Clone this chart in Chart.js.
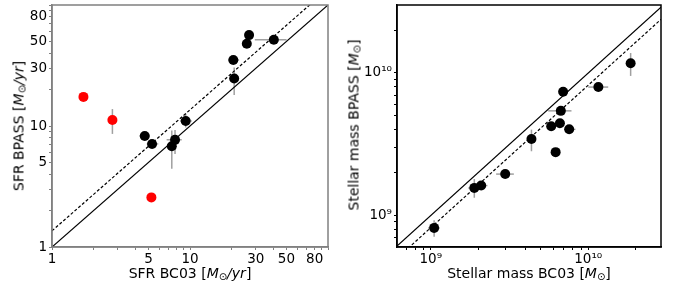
<!DOCTYPE html>
<html>
<head>
<meta charset="utf-8">
<script src="https://cdn.jsdelivr.net/npm/chart.js@4"></script>
<style>
body { margin: 0; width: 679px; height: 289px; position: relative; background: #fff; font-family: "DejaVu Sans"; overflow: hidden; }
.box { position: absolute; top: 0; height: 289px; }
.lbl { position: absolute; font-size: 14px; color: #000; white-space: nowrap; transform: translate(-50%, -50%); }
.rot { transform: translate(-50%, -50%) rotate(-90deg); }
.lbl sub { font-size: 10px; vertical-align: -2px; }
</style>
</head>
<body>
<div class="box" style="left:0;width:340px"><canvas id="sfrChart" width="340" height="289"></canvas></div>
<div class="box" style="left:340px;width:339px"><canvas id="massChart" width="339" height="289"></canvas></div>
<div class="lbl" style="left:190px;top:273px">SFR BC03 [<i>M</i><sub>⊙</sub><i>/yr</i>]</div>
<div class="lbl rot" style="left:19px;top:126px">SFR BPASS [<i>M</i><sub>⊙</sub><i>/yr</i>]</div>
<div class="lbl" style="left:529px;top:273px">Stellar mass BC03 [<i>M</i><sub>⊙</sub>]</div>
<div class="lbl rot" style="left:354px;top:125px">Stellar mass BPASS [<i>M</i><sub>⊙</sub>]</div>
<script>
// left panel: SFR
const sfrBc03 = [4.70, 5.31, 7.38, 7.79, 9.31, 20.6, 20.9, 25.8, 26.8, 40.5];
const sfrBpass = [8.28, 7.11, 6.80, 7.68, 11.0, 35.1, 24.7, 47.8, 56.4, 51.6];
const sfrBc03Lo = [4.3, 4.86, 6.9, 6.77, 8.48, 18.9, null, null, 25.0, 29.5];
const sfrBc03Hi = [5.1, 5.89, 7.8, 8.71, 10.3, 22.7, null, null, 29.0, 50.1];
const sfrBpassLo = [null, null, 4.43, 5.88, 9.7, null, 18.0, null, null, null];
const sfrBpassHi = [null, null, 9.16, 9.25, 12.6, null, 30.4, null, null, null];
const sfrBc03Red = [1.69, 2.74, 5.25];
const sfrBpassRed = [17.4, 11.2, 2.57];
const sfrBpassRedLo = [null, 8.6, null];
const sfrBpassRedHi = [null, 13.8, null];
const sfrRange = [1, 100];
const sfrOffset = 1.36;
const sfrTicks = [1, 2, 3, 4, 5, 6, 7, 8, 9, 10, 20, 30, 40, 50, 60, 70, 80, 90, 100];
const sfrTickLabels = [1, 5, 10, 30, 50, 80];

// right panel: stellar mass
const massBc03 = [1.05e9, 1.89e9, 2.09e9, 2.97e9, 4.36e9, 5.82e9, 6.21e9, 6.61e9, 6.70e9, 6.93e9, 7.57e9, 1.16e10, 1.86e10];
const massBpass = [8.17e8, 1.56e9, 1.62e9, 1.95e9, 3.44e9, 4.22e9, 2.78e9, 4.43e9, 5.42e9, 7.38e9, 4.02e9, 7.96e9, 1.17e10];
const massBc03Lo = [9.6e8, 1.73e9, 1.96e9, 2.60e9, null, null, null, null, 5.57e9, null, 7.1e9, 1.0e10, null];
const massBc03Hi = [1.14e9, 2.05e9, 2.29e9, 3.37e9, null, null, null, null, 7.83e9, null, 8.3e9, 1.34e10, null];
const massBpassLo = [7.07e8, 1.33e9, null, null, 2.82e9, null, null, null, null, null, null, null, 9.53e9];
const massBpassHi = [9.23e8, 1.80e9, null, null, 4.0e9, null, null, null, null, null, null, null, 1.38e10];
const massXRange = [6.1e8, 2.9e10];
const massYRange = [6.0e8, 3.0e10];
const massOffset = 0.82;
const massTicks = [7e8, 8e8, 9e8, 1e9, 2e9, 3e9, 4e9, 5e9, 6e9, 7e9, 8e9, 9e9, 1e10, 2e10];
const massTickLabels = { 1e9: '10⁹', 1e10: '10¹⁰' };

const pts = (xs, ys) => xs.map((x, i) => ({ x: x, y: ys[i] }));
const bars = (xs, ys, xLo, xHi, yLo, yHi) =>
    xs.map((x, i) => ({ x: x, y: ys[i], xLo: xLo[i], xHi: xHi[i], yLo: yLo[i], yHi: yHi[i] }));

const errorBars = {
    id: 'errorBars',
    beforeDatasetsDraw(chart, args, opts) {
        const ctx = chart.ctx, x = chart.scales.x, y = chart.scales.y;
        ctx.save();
        ctx.strokeStyle = '#a0a0a0';
        ctx.lineWidth = 1.5;
        opts.bars.forEach((b) => {
            const px = x.getPixelForValue(b.x), py = y.getPixelForValue(b.y);
            ctx.beginPath();
            if (b.xLo != null) {
                ctx.moveTo(x.getPixelForValue(b.xLo), py);
                ctx.lineTo(x.getPixelForValue(b.xHi), py);
            }
            if (b.yLo != null) {
                ctx.moveTo(px, y.getPixelForValue(b.yLo));
                ctx.lineTo(px, y.getPixelForValue(b.yHi));
            }
            ctx.stroke();
        });
        ctx.restore();
    }
};

const frame = {
    id: 'frame',
    afterDraw(chart, args, opts) {
        const a = chart.chartArea, ctx = chart.ctx;
        ctx.save();
        ctx.strokeStyle = opts.color;
        ctx.lineWidth = 1.5;
        ctx.strokeRect(a.left, a.top, a.right - a.left, a.bottom - a.top);
        ctx.restore();
    }
};

function logAxis(range, ticks, label, size, color, isX) {
    return {
        type: 'logarithmic',
        min: range[0],
        max: range[1],
        afterBuildTicks: (s) => { s.ticks = ticks.map((v) => ({ value: v })); },
        afterFit: (s) => {
            if (isX) {
                s.height = size;
                s.paddingLeft = 0;
                s.paddingRight = 0;
            } else {
                s.width = size;
                s.paddingTop = 0;
                s.paddingBottom = 0;
            }
        },
        ticks: {
            autoSkip: false,
            maxRotation: 0,
            padding: isX ? 1 : 2,
            color: '#000',
            font: { family: 'DejaVu Sans', size: 13.5 },
            callback: label,
        },
        grid: { drawOnChartArea: false, tickLength: 3, color: color },
        border: { color: color, width: 1.5 },
    };
}

function lineSet(data, dash) {
    return {
        data: data,
        showLine: true,
        borderColor: '#000',
        borderWidth: 1.2,
        borderDash: dash,
        pointRadius: 0,
        fill: false,
    };
}

function dotSet(data, color) {
    return {
        data: data,
        pointRadius: 5,
        pointBackgroundColor: color,
        pointBorderWidth: 0,
        showLine: false,
    };
}

const sfrLabel = (v) => sfrTickLabels.includes(v) ? String(v) : '';

new Chart(document.getElementById('sfrChart'), {
    type: 'scatter',
    data: {
        datasets: [
            lineSet(pts(sfrRange, sfrRange), []),
            lineSet(pts(sfrRange, sfrRange.map((v) => v * sfrOffset)), [3, 2]),
            dotSet(pts(sfrBc03, sfrBpass), '#000'),
            dotSet(pts(sfrBc03Red, sfrBpassRed), '#ff0000'),
        ]
    },
    options: {
        responsive: false,
        animation: false,
        layout: { padding: { top: 3, right: 12, left: 0, bottom: 0 } },
        plugins: {
            legend: { display: false },
            tooltip: { enabled: false },
            errorBars: {
                bars: bars(sfrBc03, sfrBpass, sfrBc03Lo, sfrBc03Hi, sfrBpassLo, sfrBpassHi)
                    .concat(bars(sfrBc03Red, sfrBpassRed, [null, null, null], [null, null, null], sfrBpassRedLo, sfrBpassRedHi)),
            },
            frame: { color: '#808080' },
        },
        scales: {
            x: logAxis(sfrRange, sfrTicks, sfrLabel, 42, '#808080', true),
            y: logAxis(sfrRange, sfrTicks, sfrLabel, 52, '#808080', false),
        }
    },
    plugins: [errorBars, frame]
});

const massLabel = (v) => massTickLabels[v] || '';

new Chart(document.getElementById('massChart'), {
    type: 'scatter',
    data: {
        datasets: [
            lineSet(pts(massXRange, massXRange), []),
            lineSet(pts(massXRange, massXRange.map((v) => v * massOffset)), [3, 2]),
            dotSet(pts(massBc03, massBpass), '#000'),
        ]
    },
    options: {
        responsive: false,
        animation: false,
        layout: { padding: { top: 3, right: 18, left: 0, bottom: 0 } },
        plugins: {
            legend: { display: false },
            tooltip: { enabled: false },
            errorBars: {
                bars: bars(massBc03, massBpass, massBc03Lo, massBc03Hi, massBpassLo, massBpassHi),
            },
            frame: { color: '#000' },
        },
        scales: {
            x: logAxis(massXRange, massTicks, massLabel, 42, '#000', true),
            y: logAxis(massYRange, massTicks, massLabel, 57, '#000', false),
        }
    },
    plugins: [errorBars, frame]
});
</script>
</body>
</html>
